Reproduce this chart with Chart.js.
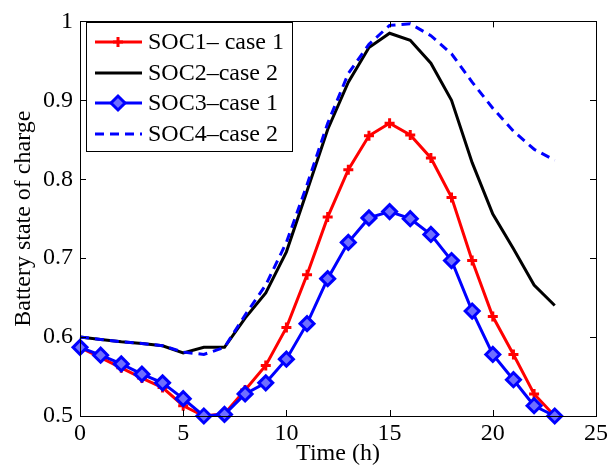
<!DOCTYPE html>
<html>
<head>
    <title>Battery state of charge</title>
    <style>
        html, body {
            margin: 0;
            padding: 0;
            background: white;
        }
        .chart-container {
            width: 611px;
            height: 468px;
        }
    </style>
    <script src="https://cdn.jsdelivr.net/npm/chart.js"></script>
</head>
<body>
    <div class="chart-container">
        <canvas id="socChart" width="611" height="468"></canvas>
    </div>

    <script>
        // hours of the day
        const hours = [0, 1, 2, 3, 4, 5, 6, 7, 8, 9, 10, 11, 12, 13, 14, 15, 16, 17, 18, 19, 20, 21, 22, 23];

        // values
        const soc1 = [0.587, 0.574, 0.561, 0.548, 0.536, 0.513, 0.500, 0.503, 0.533, 0.564, 0.612, 0.679,
                      0.752, 0.812, 0.855, 0.871, 0.856, 0.827, 0.777, 0.697, 0.626, 0.578, 0.528, 0.500];
        const soc2 = [0.600, 0.597, 0.594, 0.592, 0.589, 0.580, 0.587, 0.587, 0.624, 0.656, 0.708, 0.785,
                      0.863, 0.923, 0.967, 0.985, 0.976, 0.947, 0.900, 0.821, 0.756, 0.712, 0.666, 0.640];
        const soc3 = [0.587, 0.577, 0.566, 0.553, 0.542, 0.522, 0.500, 0.502, 0.528, 0.542, 0.572, 0.617,
                      0.674, 0.720, 0.751, 0.759, 0.750, 0.730, 0.697, 0.633, 0.578, 0.546, 0.513, 0.500];
        const soc4 = [0.600, 0.597, 0.594, 0.592, 0.589, 0.581, 0.578, 0.587, 0.628, 0.666, 0.720, 0.793,
                      0.871, 0.934, 0.971, 0.995, 0.997, 0.982, 0.959, 0.923, 0.890, 0.861, 0.838, 0.824];

        const seriesLabels = ['SOC1\u2013 case 1', 'SOC2\u2013case 2', 'SOC3\u2013case 1', 'SOC4\u2013case 2'];
        const xTicks = [0, 5, 10, 15, 20, 25];
        const yTicks = [0.5, 0.6, 0.7, 0.8, 0.9, 1];

        const serif = "'Liberation Serif', 'Times New Roman', serif";

        function toPoints(values) {
            return hours.map((h, i) => ({ x: h, y: values[i] }));
        }

        // MATLAB style box with inward tick marks on all four sides
        const boxPlugin = {
            id: 'boxPlugin',
            afterDraw(chart) {
                const ctx = chart.ctx;
                const area = chart.chartArea;
                const xs = chart.scales.x;
                const ys = chart.scales.y;
                const len = 6;
                ctx.save();
                ctx.strokeStyle = '#000';
                ctx.lineWidth = 1;
                ctx.beginPath();
                xTicks.forEach(v => {
                    const px = Math.round(xs.getPixelForValue(v)) + 0.5;
                    ctx.moveTo(px, area.bottom);
                    ctx.lineTo(px, area.bottom - len);
                    ctx.moveTo(px, area.top);
                    ctx.lineTo(px, area.top + len);
                });
                yTicks.forEach(v => {
                    const py = Math.round(ys.getPixelForValue(v)) + 0.5;
                    ctx.moveTo(area.left, py);
                    ctx.lineTo(area.left + len, py);
                    ctx.moveTo(area.right, py);
                    ctx.lineTo(area.right - len, py);
                });
                ctx.stroke();
                ctx.strokeRect(Math.round(area.left) + 0.5, Math.round(area.top) + 0.5,
                    Math.round(area.right - area.left), Math.round(area.bottom - area.top));
                ctx.restore();
            }
        };

        // legend box in the upper left corner, styled from the datasets
        const legendPlugin = {
            id: 'boxLegend',
            afterDraw(chart) {
                const ctx = chart.ctx;
                const left = 86, top = 22, w = 206, h = 129;
                const rowY = [42, 73, 103, 134];
                ctx.save();
                ctx.fillStyle = '#fff';
                ctx.fillRect(left, top, w, h);
                ctx.strokeStyle = '#000';
                ctx.lineWidth = 1;
                ctx.strokeRect(left + 0.5, top + 0.5, w, h);

                chart.data.datasets.forEach((ds, i) => {
                    const y = rowY[i];
                    ctx.strokeStyle = ds.borderColor;
                    ctx.lineWidth = ds.borderWidth;
                    ctx.setLineDash(ds.borderDash || []);
                    ctx.beginPath();
                    ctx.moveTo(95, y);
                    ctx.lineTo(142, y);
                    ctx.stroke();
                    ctx.setLineDash([]);
                    if (ds.pointRadius > 0) {
                        ctx.fillStyle = ds.pointBackgroundColor;
                        ctx.strokeStyle = ds.borderColor;
                        ctx.lineWidth = ds.pointBorderWidth;
                        Chart.helpers.drawPoint(ctx, {
                            pointStyle: ds.pointStyle,
                            radius: ds.pointRadius,
                            borderWidth: ds.pointBorderWidth,
                            rotation: 0
                        }, 118, y);
                    }
                    ctx.fillStyle = '#000';
                    ctx.font = '24px ' + serif;
                    ctx.textBaseline = 'middle';
                    ctx.textAlign = 'left';
                    ctx.fillText(ds.label, 148, y + 1);
                });
                ctx.restore();
            }
        };

        const ctx = document.getElementById('socChart').getContext('2d');
        const socChart = new Chart(ctx, {
            type: 'line',
            data: {
                datasets: [
                    {
                        label: seriesLabels[0],
                        data: toPoints(soc1),
                        borderColor: '#ff0000',
                        backgroundColor: '#ff0000',
                        borderWidth: 3,
                        pointStyle: 'cross',
                        pointRadius: 5,
                        pointBorderWidth: 3,
                        pointBackgroundColor: '#ff0000',
                        order: 4
                    },
                    {
                        label: seriesLabels[1],
                        data: toPoints(soc2),
                        borderColor: '#000000',
                        backgroundColor: '#000000',
                        borderWidth: 3,
                        pointRadius: 0,
                        order: 3
                    },
                    {
                        label: seriesLabels[2],
                        data: toPoints(soc3),
                        borderColor: '#0000ff',
                        backgroundColor: '#0000ff',
                        borderWidth: 3,
                        pointStyle: 'rectRot',
                        pointRadius: 7,
                        pointBorderWidth: 3,
                        pointBackgroundColor: '#6f6fff',
                        order: 2
                    },
                    {
                        label: seriesLabels[3],
                        data: toPoints(soc4),
                        borderColor: '#0000ff',
                        backgroundColor: '#0000ff',
                        borderWidth: 3,
                        borderDash: [9, 6],
                        pointRadius: 0,
                        order: 1
                    }
                ]
            },
            options: {
                responsive: false,
                animation: false,
                clip: false,
                layout: {
                    padding: { top: 17, right: 9, bottom: 0, left: 9 }
                },
                plugins: {
                    legend: { display: false },
                    tooltip: { enabled: false }
                },
                elements: {
                    line: { tension: 0 }
                },
                scales: {
                    x: {
                        type: 'linear',
                        min: 0,
                        max: 25,
                        afterFit: scale => { scale.height = 52; },
                        afterBuildTicks: scale => { scale.ticks = xTicks.map(v => ({ value: v })); },
                        grid: { display: false, drawTicks: false },
                        border: { display: false },
                        ticks: {
                            color: '#000',
                            padding: 3,
                            maxRotation: 0,
                            callback: v => String(v),
                            font: { family: serif, size: 24 }
                        },
                        title: {
                            display: true,
                            text: 'Time (h)',
                            color: '#000',
                            padding: 0,
                            font: { family: serif, size: 24 }
                        }
                    },
                    y: {
                        min: 0.5,
                        max: 1,
                        afterFit: scale => { scale.width = 71; },
                        afterBuildTicks: scale => { scale.ticks = yTicks.map(v => ({ value: v })); },
                        grid: { display: false, drawTicks: false },
                        border: { display: false },
                        ticks: {
                            color: '#000',
                            padding: 7,
                            callback: v => String(v),
                            font: { family: serif, size: 24 }
                        },
                        title: {
                            display: true,
                            text: 'Battery state of charge',
                            color: '#000',
                            padding: 0,
                            font: { family: serif, size: 24 }
                        }
                    }
                }
            },
            plugins: [boxPlugin, legendPlugin]
        });
    </script>
</body>
</html>
